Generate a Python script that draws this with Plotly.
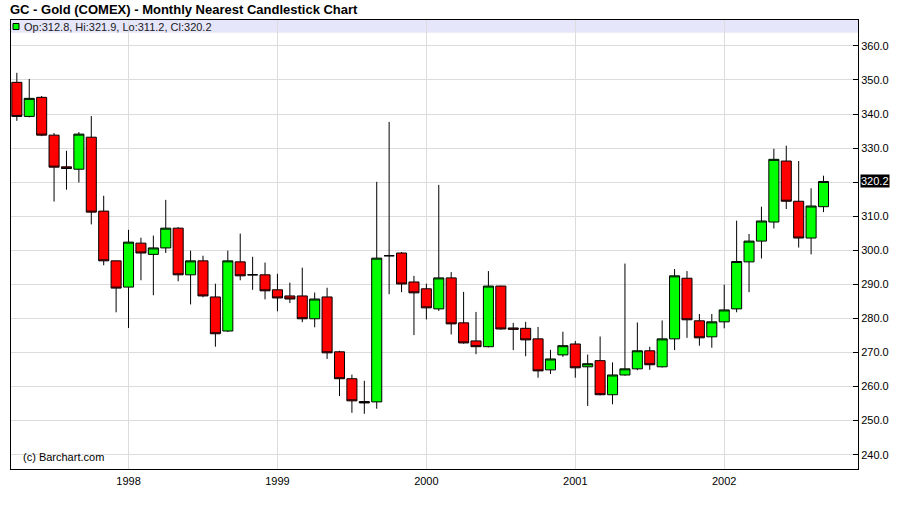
import pandas as pd
import plotly.graph_objects as go

# ---- data (monthly nearest gold futures, Apr 1997 - Sep 2002) ----
months = list(pd.date_range("1997-04-01", periods=66, freq="MS").strftime("%Y-%m"))

opens = [349.3, 339.3, 344.9, 333.8, 324.5, 323.8, 333.2, 311.5, 296.9,
         289.2, 302.1, 298.8, 300.7, 306.5, 292.8, 296.9, 286.3, 276.3, 296.6, 292.8, 292.8,
         288.4, 286.6, 286.6, 279.9, 286.3, 270.2, 262.3, 255.6, 255.5, 298.4, 299.2, 290.7,
         288.7, 282.8, 291.9, 278.7, 273.4, 271.7, 289.5, 277.2, 277.1, 274.0, 264.9, 269.3,
         272.5, 265.8, 267.6, 257.6, 263.4, 265.2, 270.5, 265.8, 274.0, 291.8, 279.3, 274.6,
         279.0, 282.8, 296.6, 302.7, 308.3, 326.2, 314.4, 303.6, 312.8]
highs = [352.1, 350.3, 345.3, 334.4, 329.2, 334.7, 339.4, 316.0, 297.0,
         306.0, 303.7, 304.3, 314.8, 306.8, 299.9, 298.4, 290.2, 299.9, 304.9, 298.1, 296.4,
         293.1, 290.5, 294.9, 287.6, 289.0, 270.5, 263.5, 261.7, 320.1, 337.7, 299.5, 292.5,
         290.2, 319.2, 293.6, 287.8, 281.9, 293.9, 289.6, 278.7, 279.0, 277.5, 270.8, 276.1,
         273.4, 269.4, 274.7, 267.1, 296.1, 278.8, 271.7, 279.4, 294.5, 293.9, 281.3, 281.3,
         289.9, 308.7, 304.8, 312.8, 329.8, 330.7, 326.2, 318.2, 321.9]
lows = [338.0, 339.0, 333.5, 314.3, 317.8, 319.9, 307.6, 295.6, 281.8,
        277.2, 291.2, 286.8, 299.2, 290.9, 284.1, 286.2, 271.7, 276.0, 291.2, 288.4, 285.6,
        282.1, 284.5, 278.9, 277.4, 268.1, 257.2, 252.3, 252.0, 253.5, 287.1, 287.7, 275.1,
        279.7, 282.2, 275.3, 272.6, 269.5, 271.5, 276.7, 270.7, 268.9, 262.6, 263.7, 268.7,
        262.6, 254.3, 257.4, 254.8, 263.2, 264.8, 264.9, 265.6, 270.7, 274.3, 272.0, 271.4,
        277.1, 281.8, 287.7, 297.6, 306.4, 312.1, 300.8, 298.8, 311.2]
closes = [339.3, 344.6, 333.8, 324.4, 324.0, 334.1, 311.2, 296.9, 288.9,
          302.4, 299.2, 300.7, 306.5, 292.8, 296.9, 286.6, 275.5, 296.9, 292.5, 292.8, 288.1,
          286.0, 285.7, 279.9, 285.7, 269.9, 262.3, 255.8, 255.2, 297.7, 298.4, 290.1, 287.5,
          283.1, 291.9, 278.4, 272.8, 271.7, 289.5, 276.9, 276.8, 273.7, 264.6, 268.1, 272.0,
          265.5, 266.7, 257.6, 263.4, 265.2, 270.5, 266.4, 274.0, 292.5, 279.6, 274.3, 279.0,
          282.5, 296.7, 302.7, 308.6, 326.7, 314.4, 303.6, 313.0, 320.2]

year_ticks = ["1998-01", "1999-01", "2000-01", "2001-01", "2002-01"]
year_labels = ["1998", "1999", "2000", "2001", "2002"]
y_ticks = [240, 250, 260, 270, 280, 290, 300, 310, 320, 330, 340, 350, 360]
y_labels = ["240.0", "250.0", "260.0", "270.0", "280.0", "290.0", "300.0",
            "310.0", "", "330.0", "340.0", "350.0", "360.0"]

FONT = "Liberation Sans, Arial, Helvetica, sans-serif"
GREEN = "#00ff00"
RED = "#ff0000"
GRID = "#dcdcdc"

fig = go.Figure(go.Candlestick(
    x=months, open=opens, high=highs, low=lows, close=closes,
    increasing=dict(fillcolor=GREEN, line=dict(color="black", width=1)),
    decreasing=dict(fillcolor=RED, line=dict(color="black", width=1)),
    whiskerwidth=0, showlegend=False, hoverinfo="x+y",
))

last = len(months) - 1
legend_text = "Op:%.1f, Hi:%.1f, Lo:%.1f, Cl:%.1f" % (opens[last], highs[last], lows[last], closes[last])

fig.update_layout(
    width=900, height=511,
    margin=dict(l=11, r=42, t=20, b=42),
    paper_bgcolor="white", plot_bgcolor="white",
    font=dict(family=FONT, size=11, color="black"),
    boxgap=0.19, boxgroupgap=0,
    title=dict(text="<b>GC - Gold (COMEX) - Monthly Nearest Candlestick Chart</b>",
               x=10 / 900, xref="container", xanchor="left",
               y=1 - 9.5 / 511, yref="container", yanchor="middle",
               font=dict(family=FONT, size=13, color="black")),
    xaxis=dict(type="category", range=[-0.47, 67.78],
               tickmode="array", tickvals=year_ticks, ticktext=year_labels,
               showgrid=True, gridcolor=GRID, gridwidth=1,
               showline=True, linecolor="black", linewidth=1, mirror=True,
               ticks="", ticklabelstandoff=2, rangeslider=dict(visible=False),
               tickfont=dict(family=FONT, size=11, color="black")),
    yaxis=dict(side="right", range=[235.8, 367.6],
               tickmode="array", tickvals=y_ticks, ticktext=y_labels,
               showgrid=True, gridcolor=GRID, gridwidth=1,
               showline=True, linecolor="black", linewidth=1, mirror=True,
               ticks="inside", ticklen=5, tickcolor="black",
               zeroline=False,
               tickfont=dict(family=FONT, size=11, color="black")),
    shapes=[
        # legend band across the top of the plot
        dict(type="rect", xref="paper", yref="paper", x0=0, x1=1,
             ysizemode="pixel", yanchor=1, y0=0, y1=-12.7,
             fillcolor="#e6e6fa", line=dict(width=0), layer="below"),
        # green legend swatch
        dict(type="rect", xref="paper", yref="paper",
             xsizemode="pixel", xanchor=0, x0=2, x1=8,
             ysizemode="pixel", yanchor=1, y0=-3.5, y1=-9.5,
             fillcolor=GREEN, line=dict(color="black", width=1)),
    ],
    annotations=[
        dict(text=legend_text, xref="paper", yref="paper", x=0, y=1,
             xanchor="left", yanchor="middle", xshift=11, yshift=-6.5,
             showarrow=False, font=dict(family=FONT, size=11, color="#202020")),
        dict(text="(c) Barchart.com", xref="paper", yref="paper", x=0, y=0,
             xanchor="left", yanchor="middle", xshift=10, yshift=12,
             showarrow=False, font=dict(family=FONT, size=11, color="black")),
        dict(text="%.1f" % closes[last], xref="paper", yref="y", x=1, y=closes[last],
             xanchor="left", yanchor="middle", xshift=2,
             showarrow=False, bgcolor="black", borderpad=0,
             font=dict(family=FONT, size=11, color="white")),
    ],
)

fig.write_html("out.html", config={"displayModeBar": False},
               post_script="document.body.style.margin='0';document.body.style.overflow='hidden';")
